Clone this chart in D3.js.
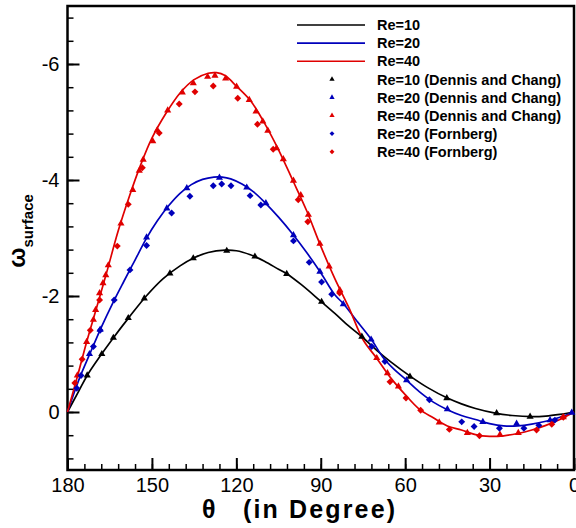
<!DOCTYPE html>
<html>
<head>
<meta charset="utf-8">
<script src="https://cdn.jsdelivr.net/npm/d3@7"></script>
<style>
  html, body { margin: 0; padding: 0; background: #fff; }
  svg { display: block; font-family: Arial, "Liberation Sans", sans-serif; }
</style>
</head>
<body>
<div id="chart"></div>
<script>
// computed curves [theta, omega]
const re10Line = [[180,0],[176,-0.36],[173,-0.63],[168,-0.99],[164,-1.26],[158,-1.64],[152,-2.0],[146,-2.3],[140,-2.52],[135,-2.66],[130,-2.75],[124,-2.79],[120,-2.78],[115,-2.71],[110,-2.6],[105,-2.46],[102,-2.38],[97,-2.2],[90,-1.91],[85,-1.7],[80,-1.48],[75,-1.28],[70,-1.06],[65,-0.86],[58,-0.61],[52,-0.42],[45,-0.24],[40,-0.14],[35,-0.06],[28,0.02],[22,0.06],[15,0.08],[10,0.07],[5,0.04],[0,0]];
const re20Line = [[180,0],[176,-0.55],[172,-1.01],[168,-1.46],[164,-1.87],[160,-2.25],[156,-2.62],[152,-2.99],[148,-3.3],[144,-3.56],[140,-3.77],[136,-3.92],[132,-4.01],[128,-4.05],[125,-4.05],[122,-4.02],[118,-3.93],[114,-3.8],[110,-3.62],[105,-3.36],[100,-3.07],[95,-2.75],[90,-2.4],[85,-2.02],[82,-1.87],[78,-1.62],[72,-1.25],[68,-0.95],[64,-0.74],[60,-0.57],[55,-0.35],[50,-0.17],[45,-0.04],[40,0.06],[35,0.13],[30,0.2],[25,0.24],[20,0.24],[15,0.21],[10,0.16],[5,0.09],[0,0]];
const re40Line = [[180,0],[176,-0.7],[173,-1.24],[170,-1.74],[166,-2.42],[162,-3.12],[158,-3.72],[154,-4.26],[150,-4.72],[145,-5.15],[140,-5.5],[135,-5.73],[130,-5.84],[127,-5.85],[124,-5.8],[120,-5.62],[115,-5.37],[110,-4.98],[105,-4.52],[100,-4.0],[95,-3.47],[90,-2.86],[85,-2.3],[80,-1.8],[75,-1.25],[70,-0.92],[65,-0.58],[60,-0.3],[55,-0.05],[50,0.1],[45,0.24],[40,0.31],[35,0.39],[30,0.42],[25,0.41],[20,0.37],[15,0.31],[10,0.23],[5,0.13],[0,0]];

// Dennis and Chang (triangles)
const dc10 = [[173,-0.63],[167.8,-1.0],[163.7,-1.28],[158.4,-1.62],[152.7,-1.96],[143.6,-2.39],[135.3,-2.65],[123.4,-2.78],[113.4,-2.68],[102.1,-2.38],[89.7,-1.9],[75.4,-1.3],[58.3,-0.61],[45.2,-0.24],[27.5,0.02],[15.6,0.08]];
const dc20 = [[172.2,-1.0],[168.4,-1.42],[151.9,-3.01],[144.7,-3.51],[137.6,-3.86],[126.0,-4.04],[116.3,-3.87],[109.5,-3.6],[99.7,-3.05],[90.3,-2.42],[82.0,-1.86],[72.1,-1.25],[59.5,-0.55],[45.0,-0.05],[32.4,0.17],[20.4,0.2],[8.5,0.14],[0.8,0.01]];
const dc40 = [[176.5,-0.63],[173.2,-1.21],[170.8,-1.59],[170.0,-1.76],[168.6,-2.05],[167.4,-2.22],[166.4,-2.36],[165.5,-2.53],[161.0,-3.25],[156.8,-3.83],[154.5,-4.16],[153.1,-4.35],[149.7,-4.67],[148.1,-4.86],[144.4,-5.2],[139.2,-5.51],[135.3,-5.67],[130.2,-5.78],[127.6,-5.8],[123.8,-5.75],[119.9,-5.61],[115.4,-5.38],[113.0,-5.18],[110.6,-5.01],[108.8,-4.85],[105.7,-4.55],[103.3,-4.36],[99.7,-3.99],[97.1,-3.74],[94.4,-3.4],[90.3,-2.9],[87.0,-2.51],[83.2,-2.1],[70.1,-0.93],[66.3,-0.67],[62.4,-0.44],[47.9,0.18],[37.9,0.36],[26.3,0.39],[19.8,0.36],[3.8,0.09]];

// Fornberg (diamonds)
const fb20 = [[176.7,-0.41],[175.2,-0.63],[170.8,-1.13],[168.4,-1.41],[163.4,-1.93],[157.8,-2.45],[151.9,-2.87],[143.0,-3.43],[136.5,-3.72],[128.2,-3.9],[125.2,-3.93],[121.9,-3.9],[115.1,-3.73],[111.3,-3.57],[99.7,-2.95],[94.1,-2.58],[89.7,-2.24],[86.1,-2.03],[71.9,-1.13],[67.2,-0.87],[51.4,-0.21],[39.9,0.17],[35.5,0.25],[26.5,0.28],[17.8,0.28],[12.5,0.23],[6.8,0.14]];
const fb40 = [[177.4,-0.5],[174.8,-0.91],[171.9,-1.41],[168.6,-1.93],[162.3,-2.86],[158.4,-3.58],[153.4,-4.21],[147.4,-4.81],[140.3,-5.31],[134.7,-5.52],[128.2,-5.62],[119.5,-5.41],[112.5,-4.96],[106.9,-4.53],[98.0,-3.66],[94.6,-3.28],[83.3,-2.05],[65.4,-0.52],[59.7,-0.24],[54.5,-0.03],[44.3,0.3],[33.6,0.41],[13.3,0.31],[7.9,0.21],[3.8,0.09]];

const xMajor = [180, 150, 120, 90, 60, 30, 0];
const yMajor = [-6, -4, -2, 0];

const legendItems = [
  {label: "Re=10", color: "#000000", type: "line"},
  {label: "Re=20", color: "#0000bb", type: "line"},
  {label: "Re=40", color: "#e00000", type: "line"},
  {label: "Re=10 (Dennis and Chang)", color: "#000000", type: "tri"},
  {label: "Re=20 (Dennis and Chang)", color: "#0000bb", type: "tri"},
  {label: "Re=40 (Dennis and Chang)", color: "#e00000", type: "tri"},
  {label: "Re=20 (Fornberg)", color: "#0000bb", type: "dia"},
  {label: "Re=40 (Fornberg)", color: "#e00000", type: "dia"}
];

const width = 576, height = 528;
const plotLeft = 67.5, plotRight = 574, plotTop = 6, plotBottom = 470;

const svg = d3.select("#chart").append("svg")
  .attr("width", width)
  .attr("height", height);

const x = d3.scaleLinear().domain([180, 0]).range([plotLeft, plotRight]);
const y = d3.scaleLinear().domain([1, -7]).range([plotBottom, plotTop]);

// minor ticks
svg.append("g")
  .attr("transform", `translate(0,${plotBottom})`)
  .call(d3.axisBottom(x).tickValues(d3.range(0, 181, 6)).tickSize(-6).tickFormat(""))
  .call(g => g.select(".domain").remove())
  .call(g => g.selectAll("line").attr("stroke-width", 1.5));
svg.append("g")
  .attr("transform", `translate(${plotLeft},0)`)
  .call(d3.axisLeft(y).tickValues(d3.range(-6.8, 0.9, 0.4)).tickSize(-6).tickFormat(""))
  .call(g => g.select(".domain").remove())
  .call(g => g.selectAll("line").attr("stroke-width", 1.5));

// major ticks with labels
svg.append("g")
  .attr("transform", `translate(0,${plotBottom})`)
  .call(d3.axisBottom(x).tickValues(xMajor).tickSize(-12).tickPadding(8).tickFormat(d3.format("d")))
  .call(g => g.select(".domain").remove())
  .call(g => g.selectAll("line").attr("stroke-width", 2))
  .call(g => g.selectAll("text").attr("font-size", 20).attr("fill", "#000")
    .attr("font-family", "Arial, 'Liberation Sans', sans-serif"));
svg.append("g")
  .attr("transform", `translate(${plotLeft},0)`)
  .call(d3.axisLeft(y).tickValues(yMajor).tickSize(-12).tickPadding(8).tickFormat(d => d === 0 ? "0" : "-" + Math.abs(d)))
  .call(g => g.select(".domain").remove())
  .call(g => g.selectAll("line").attr("stroke-width", 2))
  .call(g => g.selectAll("text").attr("font-size", 20).attr("fill", "#000")
    .attr("font-family", "Arial, 'Liberation Sans', sans-serif"));

// frame
svg.append("rect")
  .attr("x", plotLeft).attr("y", plotTop)
  .attr("width", plotRight - plotLeft).attr("height", plotBottom - plotTop)
  .attr("fill", "none").attr("stroke", "#000").attr("stroke-width", 2.5);

const plot = svg.append("g");
const line = d3.line()
  .x(d => x(d[0]))
  .y(d => y(d[1]))
  .curve(d3.curveCatmullRom.alpha(0.5));

[[re10Line, "#000000"], [re20Line, "#0000bb"], [re40Line, "#e00000"]].forEach(([data, color]) => {
  plot.append("path")
    .datum(data)
    .attr("d", line)
    .attr("fill", "none")
    .attr("stroke", color)
    .attr("stroke-width", 1.7);
});

const tri = d3.symbol(d3.symbolTriangle).size(22);
const dia = d3.symbol(d3.symbolSquare).size(24);

[[dc10, "#000000"], [dc20, "#0000bb"], [dc40, "#e00000"]].forEach(([data, color]) => {
  plot.selectAll(null)
    .data(data)
    .enter().append("path")
    .attr("d", tri)
    .attr("transform", d => `translate(${x(d[0])},${y(d[1])})`)
    .attr("fill", color);
});
[[fb20, "#0000bb"], [fb40, "#e00000"]].forEach(([data, color]) => {
  plot.selectAll(null)
    .data(data)
    .enter().append("path")
    .attr("d", dia)
    .attr("transform", d => `translate(${x(d[0])},${y(d[1])}) rotate(45)`)
    .attr("fill", color);
});

// legend
const legend = svg.append("g");
legendItems.forEach((item, i) => {
  const ly = 25 + i * 18.1;
  if (item.type === "line") {
    legend.append("line")
      .attr("x1", 297).attr("x2", 365)
      .attr("y1", ly).attr("y2", ly)
      .attr("stroke", item.color).attr("stroke-width", 1.6);
  } else if (item.type === "tri") {
    legend.append("path")
      .attr("d", d3.symbol(d3.symbolTriangle).size(12))
      .attr("transform", `translate(332,${ly})`)
      .attr("fill", item.color);
  } else {
    legend.append("path")
      .attr("d", d3.symbol(d3.symbolSquare).size(12))
      .attr("transform", `translate(332,${ly}) rotate(45)`)
      .attr("fill", item.color);
  }
  legend.append("text")
    .attr("x", 377).attr("y", ly)
    .attr("dy", "0.36em")
    .attr("font-size", 14.5)
    .attr("font-weight", "bold")
    .text(item.label);
});

// axis titles
const xTitle = svg.append("g")
  .attr("font-size", 25)
  .attr("font-weight", "bold");
xTitle.append("text")
  .attr("x", 202).attr("y", 518)
  .text("θ");
xTitle.append("text")
  .attr("x", 395).attr("y", 518)
  .attr("text-anchor", "end")
  .attr("textLength", 152)
  .attr("lengthAdjust", "spacing")
  .text("(in Degree)");

const yTitle = svg.append("text")
  .attr("transform", "translate(25,231) rotate(-90)")
  .attr("text-anchor", "middle")
  .attr("font-weight", "bold");
yTitle.append("tspan").attr("font-size", 24).text("ω");
yTitle.append("tspan").attr("font-size", 15).attr("dy", 8).text("surface");
</script>
</body>
</html>
